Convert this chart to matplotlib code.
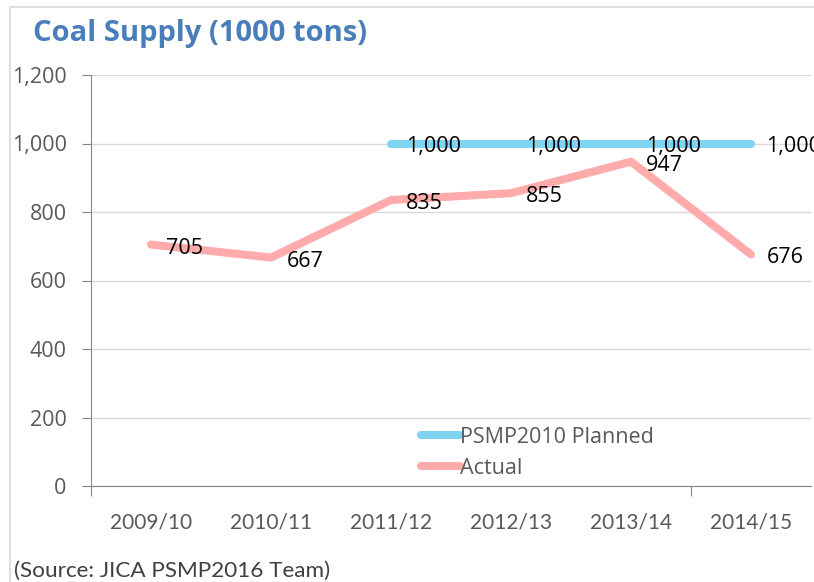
import matplotlib
matplotlib.use("Agg")
import matplotlib.pyplot as plt
from matplotlib.ticker import FuncFormatter, FixedLocator

categories = ["2009/10", "2010/11", "2011/12", "2012/13", "2013/14", "2014/15"]
planned = [None, None, 1000, 1000, 1000, 1000]
actual = [705, 667, 835, 855, 947, 676]
yticks = [0, 200, 400, 600, 800, 1000, 1200]

main_font = "Open Sans"
cat_font = "Lato"

fig = plt.figure(figsize=(8.14, 5.82), dpi=100)
fig.patches.append(plt.Rectangle((10/814, -0.1), 1.2, 1 - 7/582 + 0.1, transform=fig.transFigure,
                                 fill=False, edgecolor="#D9D9D9", linewidth=1.2))
ax = fig.add_axes([91/814, 1 - 486/582, (811 - 91)/814, (486 - 75)/582])

x = list(range(len(categories)))
px = [i for i, v in zip(x, planned) if v is not None]
pv = [v for v in planned if v is not None]
ax.plot(px, pv, color="#80D4F2", linewidth=5.8, solid_capstyle="round", label="PSMP2010 Planned", zorder=3)
ax.plot(x, actual, color="#FFABAB", linewidth=5.8, solid_capstyle="round", label="Actual", zorder=3)

for i, v in zip(px, pv):
    ax.annotate(f"{v:,}", (i, v), xytext=(11, -2.5), textcoords="offset points", ha="left", va="center",
                fontsize=15.5, family=main_font, color="#000000", zorder=5, annotation_clip=False)
for i, v in zip(x, actual):
    ax.annotate(f"{v:,}", (i, v), xytext=(11, -2.5), textcoords="offset points", ha="left", va="center",
                fontsize=15.5, family=main_font, color="#000000", zorder=5)

ax.set_xlim(-0.5, 5.5)
ax.set_ylim(0, 1200)
ax.yaxis.set_major_locator(FixedLocator(yticks))
ax.yaxis.set_major_formatter(FuncFormatter(lambda v, p: f"{int(v):,}"))
ax.grid(axis="y", color="#D9D9D9", linewidth=1)
ax.set_axisbelow(True)

ax.set_xticks([-0.5, 4.5])
ax.set_xticklabels(["", ""])
ax.set_xticks(x, minor=True)
ax.set_xticklabels(categories, minor=True)
ax.tick_params(axis="x", which="major", length=7, color="#868686", direction="out")
ax.tick_params(axis="x", which="minor", length=0, pad=19, labelsize=15, labelcolor="#595959")
for t in ax.get_xticklabels(minor=True):
    t.set_family(cat_font)
ax.tick_params(axis="y", length=6.5, color="#868686", pad=11, labelsize=15.5, labelcolor="#595959")
for t in ax.get_yticklabels():
    t.set_family(main_font)

for s in ["top", "right"]:
    ax.spines[s].set_visible(False)
ax.spines["left"].set_color("#868686")
ax.spines["bottom"].set_color("#868686")

leg = ax.legend(loc="lower left", bbox_to_anchor=(0.432, -0.029), frameon=False, handlelength=1.8,
                handletextpad=0.0, labelspacing=0.45, prop={"family": main_font, "size": 15.5})
for t in leg.get_texts():
    t.set_color("#595959")

fig.text(33/814, 1 - 33/582, "Coal Supply (1000 tons)", fontsize=21, fontweight="bold",
         color="#4A7EBB", family=main_font, va="center", ha="left")
fig.text(14/814, 1 - 571/582, "(Source: JICA PSMP2016 Team)", fontsize=16.2, color="#404040",
         family=cat_font, va="center", ha="left")

fig.savefig("out.png", dpi=100)
